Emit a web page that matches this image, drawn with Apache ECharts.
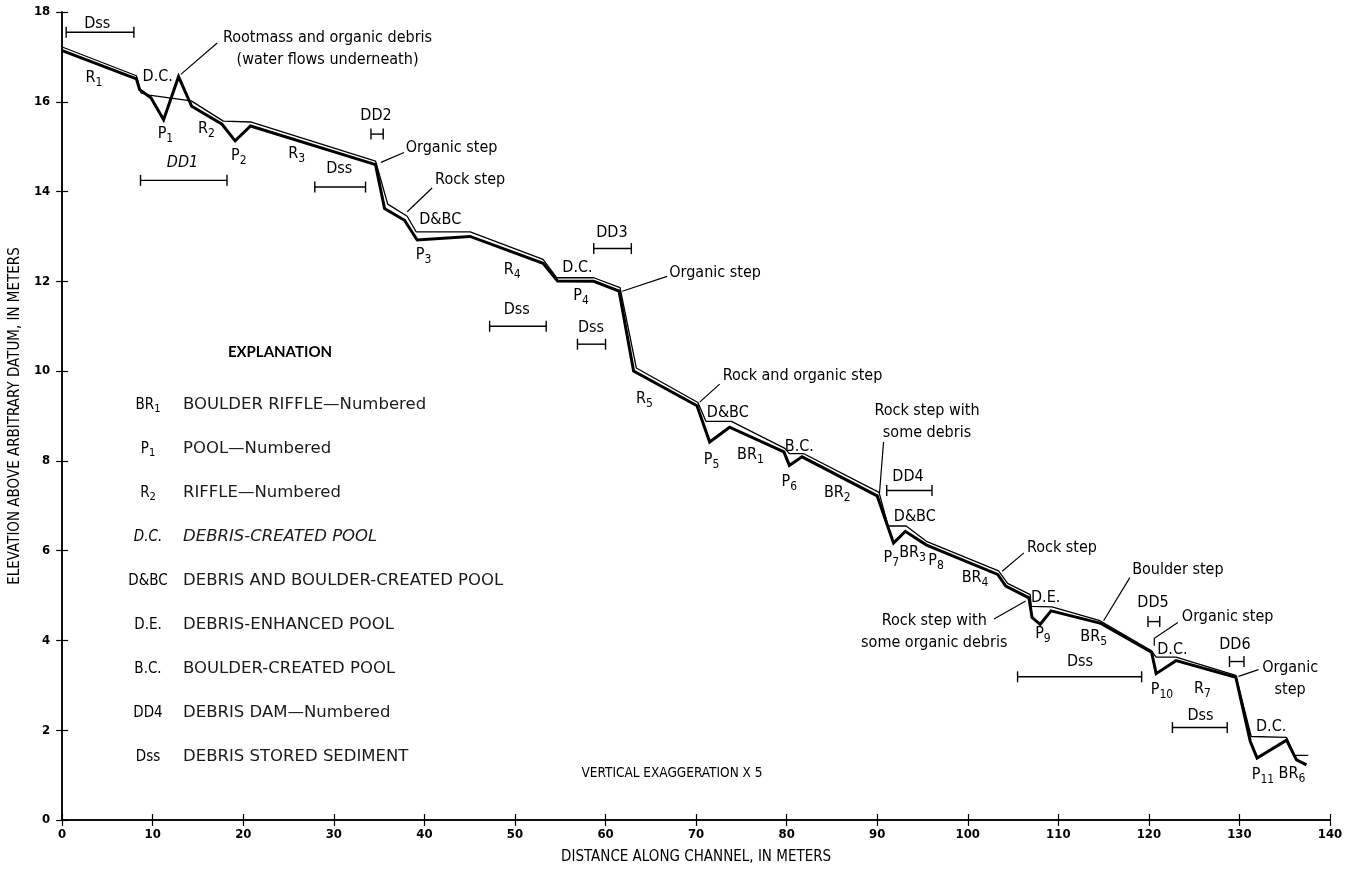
<!DOCTYPE html>
<html>
<head>
<meta charset="utf-8">
<script src="https://cdn.jsdelivr.net/npm/echarts@6/dist/echarts.min.js"></script>
<style>html,body{margin:0;padding:0;background:#fff}#c{width:1350px;height:870px}</style>
</head>
<body>
<div id="c"></div>
<script>
// ---- Channel bed profile (thick line) ----
const bedX = [0, 8.2, 8.55, 9.8, 11.2, 12.85, 14.3, 17.65, 19.1, 20.8, 34.6, 35.6, 37.8, 39.2, 45.05, 53.1, 54.7, 58.7, 61.5, 63.1, 70.1, 71.5, 73.7, 79.7, 80.3, 81.7, 90.0, 91.8, 93.1, 95.4, 103.3, 104.2, 106.75, 107.1, 108.0, 109.2, 114.7, 120.3, 120.8, 123.0, 129.6, 131.2, 131.95, 135.2, 136.3, 137.4];
const bedY = [17.14, 16.51, 16.27, 16.09, 15.6, 16.56, 15.9, 15.5, 15.13, 15.46, 14.6, 13.62, 13.36, 12.92, 13.0, 12.4, 12.01, 12.0, 11.78, 10.0, 9.23, 8.42, 8.75, 8.2, 7.9, 8.09, 7.22, 6.17, 6.43, 6.13, 5.47, 5.21, 4.95, 4.51, 4.36, 4.66, 4.38, 3.74, 3.26, 3.55, 3.18, 1.75, 1.38, 1.78, 1.34, 1.23];

// ---- Water surface (thin line) ----
const wsX = [0, 8.2, 8.7, 9.6, 14.25, 17.8, 20.8, 34.6, 35.95, 38.1, 39.1, 45.05, 53.1, 54.6, 58.7, 61.6, 63.4, 70.2, 71.1, 73.9, 79.8, 80.3, 81.9, 90.2, 91.2, 93.2, 95.5, 103.4, 104.4, 106.9, 107.0, 109.3, 114.6, 120.3, 120.8, 123.0, 129.6, 131.3, 135.2, 136.1, 137.6];
const wsY = [17.22, 16.58, 16.2, 16.15, 16.02, 15.57, 15.55, 14.68, 13.72, 13.45, 13.1, 13.1, 12.49, 12.08, 12.08, 11.86, 10.07, 9.3, 8.88, 8.88, 8.28, 8.16, 8.16, 7.3, 6.55, 6.55, 6.2, 5.55, 5.27, 5.02, 4.76, 4.75, 4.44, 3.77, 3.63, 3.63, 3.22, 1.86, 1.84, 1.44, 1.44];

// ---- Interval bars (Dss / DD) ----
const barStart = [0.44, 8.65, 34.1, 27.9, 58.7, 47.2, 56.9, 91.05, 105.5, 119.9, 128.9, 122.6];
const barEnd   = [7.92, 18.2, 35.45, 33.5, 62.85, 53.45, 60.0, 96.05, 119.2, 121.2, 130.5, 128.65];
const barY     = [17.55, 14.25, 15.28, 14.1, 12.73, 11.0, 10.6, 7.34, 3.19, 4.42, 3.53, 2.06];

// ---- Leader lines ----
const leaders = [
  [[13.1, 16.61], [17.12, 17.31]],
  [[35.2, 14.65], [37.75, 14.87]],
  [[38.1, 13.55], [40.85, 14.08]],
  [[61.85, 11.78], [66.8, 12.11]],
  [[70.4, 9.31], [72.6, 9.71]],
  [[90.25, 7.28], [90.7, 8.42]],
  [[103.8, 5.54], [106.2, 5.95]],
  [[102.9, 4.48], [106.4, 4.88]],
  [[115.0, 4.44], [117.9, 5.4]],
  [[120.6, 3.88], [120.6, 4.05], [123.2, 4.4]],
  [[129.9, 3.2], [132.1, 3.35]]
];

// ---- Annotation labels ----
const labelText = ['Dss', 'Rootmass and organic debris\n(water flows underneath)', 'R_1', 'D.C.', 'P_1', 'R_2', 'P_2', 'DD1', 'R_3', 'DD2', 'Dss',
  'Organic step', 'Rock step', 'D&BC', 'P_3', 'R_4', 'D.C.', 'P_4', 'DD3', 'Organic step', 'Dss', 'Dss',
  'R_5', 'Rock and organic step', 'D&BC', 'P_5', 'BR_1', 'B.C.', 'P_6', 'BR_2', 'Rock step with\nsome debris', 'DD4', 'D&BC',
  'P_7', 'BR_3', 'P_8', 'BR_4', 'Rock step', 'D.E.', 'Rock step with\nsome organic debris', 'P_9', 'BR_5', 'Dss',
  'Boulder step', 'DD5', 'Organic step', 'D.C.', 'P_10', 'R_7', 'DD6', 'Organic\nstep', 'Dss', 'D.C.', 'P_11', 'BR_6'];
const labelX = [3.87, 29.3, 3.5, 10.55, 11.4, 15.94, 19.5, 13.29, 25.9, 34.65, 30.6,
  43.0, 45.05, 41.75, 39.9, 49.7, 56.9, 57.3, 60.7, 72.1, 50.2, 58.4,
  64.3, 81.75, 73.5, 71.7, 76.0, 81.4, 80.3, 85.6, 95.5, 93.4, 94.15,
  91.55, 93.9, 96.5, 100.8, 110.4, 108.6, 96.3, 108.3, 113.9, 112.4,
  123.2, 120.45, 128.7, 122.6, 121.45, 125.9, 129.5, 135.6, 125.7, 133.5, 132.6, 135.8];
const labelY = [17.73, 17.19, 16.53, 16.56, 15.28, 15.39, 14.8, 14.65, 14.84, 15.68, 14.5,
  14.98, 14.27, 13.36, 12.59, 12.25, 12.29, 11.67, 13.09, 12.2, 11.37, 10.96,
  9.38, 9.9, 9.08, 8.02, 8.13, 8.31, 7.54, 7.28, 8.88, 7.65, 6.76,
  5.84, 5.95, 5.77, 5.4, 6.06, 4.95, 4.19, 4.14, 4.07, 3.52,
  5.57, 4.83, 4.53, 3.8, 2.89, 2.93, 3.91, 3.15, 2.32, 2.08, 1.0, 1.02];
const italicLabels = ['DD1'];

// ---- Explanation ----
const explSymbols = ['BR_1', 'P_1', 'R_2', 'D.C.', 'D&BC', 'D.E.', 'B.C.', 'DD4', 'Dss'];
const explText = ['BOULDER RIFFLE\u2014Numbered', 'POOL\u2014Numbered', 'RIFFLE\u2014Numbered', 'DEBRIS-CREATED POOL',
  'DEBRIS AND BOULDER-CREATED POOL', 'DEBRIS-ENHANCED POOL', 'BOULDER-CREATED POOL', 'DEBRIS DAM\u2014Numbered', 'DEBRIS STORED SEDIMENT'];
const explItalic = ['D.C.'];

const xTicks = [0, 140, 10];
const yTicks = [0, 18, 2];

const NARROW = "'Liberation Sans Narrow', 'DejaVu Sans Condensed', 'Roboto', sans-serif";
const HUMAN = "'DejaVu Sans', 'Open Sans', sans-serif";

function toRich(t) { return t.replace(/_(\d+)/g, '{s|$1}'); }
const subRich = (size) => ({ s: { fontSize: size, fontFamily: NARROW, verticalAlign: 'bottom', lineHeight: 12, color: '#000' } });

const chart = echarts.init(document.getElementById('c'), null, { renderer: 'canvas' });

const labelData = labelText.map((t, i) => ({
  value: [labelX[i], labelY[i]],
  label: {
    formatter: toRich(t),
    fontStyle: italicLabels.includes(t) ? 'italic' : 'normal'
  }
}));

const graphics = [];
graphics.push({ type: 'text', x: 280, y: 352, style: { text: 'EXPLANATION', font: "bold 15px Lato, 'DejaVu Sans', sans-serif", fill: '#000', align: 'center', verticalAlign: 'middle' } });
explSymbols.forEach((s, i) => {
  const cy = 405 + i * 44;
  const it = explItalic.includes(s);
  graphics.push({ type: 'text', x: 148, y: cy, style: { text: toRich(s), fontFamily: NARROW, fontSize: 15, fontStyle: it ? 'italic' : 'normal', align: 'center', verticalAlign: 'middle', lineHeight: 20, fill: '#000', rich: subRich(11) } });
  graphics.push({ type: 'text', x: 183, y: cy, style: { text: explText[i], fontFamily: HUMAN, fontSize: 16.5, fontStyle: it ? 'italic' : 'normal', align: 'left', verticalAlign: 'middle', fill: '#1a1a1a' } });
});
graphics.push({ type: 'text', x: 672, y: 773, style: { text: 'VERTICAL EXAGGERATION X 5', fontFamily: NARROW, fontSize: 13.5, align: 'center', verticalAlign: 'middle', fill: '#000' } });

const axisCommon = {
  axisLine: { lineStyle: { color: '#000', width: 1.5 } },
  axisTick: { inside: true, length: 6, lineStyle: { color: '#000', width: 1.2 } },
  splitLine: { show: false }
};

const option = {
  backgroundColor: '#fff',
  animation: false,
  grid: { left: 52, right: 20, top: 12, bottom: 45, containLabel: false },
  xAxis: [
    Object.assign({ type: 'value', min: xTicks[0], max: xTicks[1], interval: xTicks[2], position: 'bottom',
      name: 'DISTANCE ALONG CHANNEL, IN METERS', nameLocation: 'middle', nameGap: 30,
      nameTextStyle: { fontFamily: NARROW, fontSize: 15, color: '#000' },
      axisLabel: { fontFamily: NARROW, fontSize: 13, fontWeight: 'bold', color: '#000', margin: 8 } }, axisCommon),
    Object.assign({ type: 'value', min: xTicks[0], max: xTicks[1], interval: xTicks[2], position: 'top', axisLabel: { show: false } }, axisCommon)
  ],
  yAxis: [
    Object.assign({ type: 'value', min: yTicks[0], max: yTicks[1], interval: yTicks[2], position: 'left',
      name: 'ELEVATION ABOVE ARBITRARY DATUM, IN METERS', nameLocation: 'middle', nameGap: 33,
      nameTextStyle: { fontFamily: NARROW, fontSize: 15, color: '#000' },
      axisLabel: { fontFamily: NARROW, fontSize: 13, fontWeight: 'bold', color: '#000', margin: 12 } }, axisCommon),
    Object.assign({ type: 'value', min: yTicks[0], max: yTicks[1], interval: yTicks[2], position: 'right', axisLabel: { show: false } }, axisCommon)
  ],
  graphic: graphics,
  series: [
    { type: 'line', name: 'water', data: wsX.map((x, i) => [x, wsY[i]]), symbol: 'none', z: 3,
      lineStyle: { color: '#000', width: 1.3 } },
    { type: 'line', name: 'bed', data: bedX.map((x, i) => [x, bedY[i]]), symbol: 'none', z: 4,
      lineStyle: { color: '#000', width: 3, join: 'miter' } },
    { type: 'custom', name: 'bars', z: 5,
      data: barStart.map((s, i) => [s, barEnd[i], barY[i]]),
      encode: { x: [0, 1], y: 2 },
      renderItem: function (params, api) {
        const a = api.coord([api.value(0), api.value(2)]);
        const b = api.coord([api.value(1), api.value(2)]);
        const h = 5.5, st = { stroke: '#000', lineWidth: 1.4 };
        return { type: 'group', children: [
          { type: 'line', shape: { x1: a[0], y1: a[1], x2: b[0], y2: b[1] }, style: st },
          { type: 'line', shape: { x1: a[0], y1: a[1] - h, x2: a[0], y2: a[1] + h }, style: st },
          { type: 'line', shape: { x1: b[0], y1: b[1] - h, x2: b[0], y2: b[1] + h }, style: st }
        ] };
      } },
    { type: 'custom', name: 'leaders', z: 5,
      data: leaders.map((l, i) => [l[0][0], l[0][1], i]),
      renderItem: function (params, api) {
        const pts = leaders[params.dataIndex].map(p => api.coord(p));
        return { type: 'polyline', shape: { points: pts }, style: { stroke: '#000', lineWidth: 1.2, fill: null } };
      } },
    { type: 'scatter', name: 'labels', z: 6, symbolSize: 0.01, itemStyle: { color: '#000', opacity: 1 },
      emphasis: { disabled: true },
      data: labelData,
      label: { show: true, position: 'inside', fontFamily: NARROW, fontSize: 16, color: '#000', opacity: 1, textBorderWidth: 0, lineHeight: 22, align: 'center', verticalAlign: 'middle', rich: subRich(12) } }
  ]
};
chart.setOption(option);
</script>
</body>
</html>
